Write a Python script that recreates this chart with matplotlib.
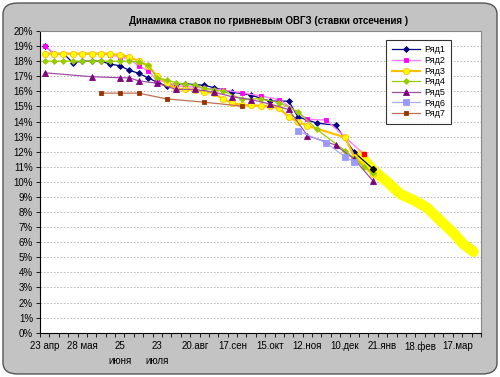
import numpy as np
import matplotlib
matplotlib.use("Agg")
import matplotlib.pyplot as plt
from matplotlib.patches import FancyBboxPatch

plt.rcParams["font.family"] = ["Liberation Sans", "DejaVu Sans"]

# -------------------------------
# Data (category index -> rate, %)
# -------------------------------
x_labels = ["23 апр", "28 мая", "25\nиюня", "23\nиюля", "20.авг", "17.сен",
            "15.окт", "12.ноя", "10.дек", "21.янв", "18.фев", "17.мар"]
n_cat = 47

r1_x = [0, 1, 2, 3, 4, 5, 6, 7, 8, 9, 10, 11, 12, 13, 14, 15, 16, 17, 18, 20, 22, 24, 26, 27, 29, 31, 33, 35]
r1_y = [19.0, 18.5, 18.5, 17.9, 18.0, 18.0, 18.0, 17.8, 17.7, 17.4, 17.2, 16.9, 16.6, 16.35, 16.5, 16.5,
        16.45, 16.4, 16.25, 15.95, 15.75, 15.35, 15.35, 14.3, 13.9, 13.75, 11.95, 10.85]

r2_x = [0, 1, 2, 3, 4, 5, 6, 7, 8, 9, 10, 11, 12, 13, 14, 15, 16, 17, 19, 21, 23, 25, 28, 30, 34]
r2_y = [19.0, 18.5, 18.5, 18.5, 18.5, 18.5, 18.5, 18.4, 18.3, 18.15, 17.7, 17.35, 16.75, 16.6, 16.4,
        16.3, 16.3, 16.2, 16.1, 15.9, 15.7, 15.45, 14.15, 14.1, 11.85]

r3_x = [0, 1, 2, 3, 4, 5, 6, 7, 8, 9, 10, 11, 12, 13, 14, 15, 16, 17, 18, 19, 20, 21, 22, 23, 24, 25,
        26, 27, 28, 32, 33, 35]
r3_y = [18.5, 18.5, 18.5, 18.5, 18.5, 18.5, 18.5, 18.5, 18.4, 18.3, 18.0, 17.7, 17.0, 16.55, 16.15,
        16.13, 16.1, 15.95, 15.9, 15.47, 15.24, 15.09, 15.07, 15.04, 15.0, 14.87, 14.31, 13.98, 13.72,
        12.95, 11.66, 10.5]

r4_x = [0, 1, 2, 3, 4, 5, 6, 7, 8, 9, 10, 11, 12, 13, 14, 15, 16, 17, 18, 19, 21, 23, 25, 27, 29, 32,
        33, 34, 35]
r4_y = [18.0, 18.0, 18.0, 18.0, 18.0, 18.0, 18.0, 18.0, 18.0, 18.0, 17.95, 17.74, 16.9, 16.75, 16.57,
        16.46, 16.4, 16.2, 16.1, 16.02, 15.5, 15.5, 15.25, 14.65, 13.48, 12.06, 11.56, 11.0, 10.6]

r5_x = [0, 5, 8, 9, 10, 12, 14, 16, 18, 20, 22, 24, 26, 28, 31, 33, 35]
r5_y = [17.23, 16.97, 16.9, 16.9, 16.7, 16.53, 16.13, 16.13, 15.95, 15.64, 15.45, 15.16, 14.8, 13.06,
        12.44, 11.5, 10.05]

r6_x = [27, 30, 32, 33]
r6_y = [13.37, 12.59, 11.66, 11.33]

r7_x = [6, 8, 10, 13, 17, 21]
r7_y = [15.88, 15.88, 15.88, 15.5, 15.28, 15.02]

# daily forecast band (yellow)
band_x = [33.6, 35.0, 36.5, 37.9, 39.3, 40.7, 42.1, 43.6, 44.6, 45.7]
band_y = [11.78, 10.78, 10.0, 9.19, 8.79, 8.31, 7.47, 6.59, 5.88, 5.37]

red_x, red_y = [34], [11.86]
black_x, black_y = [35], [10.83]

# -------------------------------
# Figure
# -------------------------------
fig = plt.figure(figsize=(5, 3.77), dpi=100)
fig.patch.set_facecolor("white")
bg = FancyBboxPatch((0.006, 0.008), 0.988, 0.984, boxstyle="round,pad=0,rounding_size=0.03",
                    transform=fig.transFigure, facecolor="#c3c3c3", edgecolor="#555555",
                    linewidth=1.0, zorder=-10)
fig.patches.append(bg)

ax = fig.add_axes([0.08, 0.1175, 0.882, 0.8003])
ax.set_facecolor("white")

ax.plot(band_x, band_y, color="#ffff00", linewidth=7.5, solid_capstyle="round", zorder=2)

series = [
    ("Ряд1", r1_x, r1_y, "#000080", "#000080", "D", 3.0, 0.9),
    ("Ряд2", r2_x, r2_y, "#ff80ff", "#ff00ff", "s", 3.0, 1.0),
    ("Ряд3", r3_x, r3_y, "#ffc000", "#ffff00", "o", 4.5, 1.6),
    ("Ряд4", r4_x, r4_y, "#99cc00", "#99cc00", "D", 3.0, 0.9),
    ("Ряд5", r5_x, r5_y, "#a050a0", "#800080", "^", 4.0, 0.9),
    ("Ряд6", r6_x, r6_y, "#aaaaff", "#9999ff", "s", 4.0, 0.9),
    ("Ряд7", r7_x, r7_y, "#c07050", "#993300", "s", 3.5, 0.9),
]
for name, xs, ys, lc, mc, mk, ms, lw in series:
    ax.plot(xs, ys, color=lc, linewidth=lw, marker=mk, markersize=ms,
            markerfacecolor=mc, markeredgecolor=mc if mk != "o" else "#ffc000",
            markeredgewidth=0.6, label=name, zorder=3)

ax.plot(red_x, red_y, "s", color="#ff0000", markersize=3, zorder=4)
ax.plot(black_x, black_y, "D", color="#000000", markersize=3, zorder=4)

ax.set_xlim(-0.5, n_cat - 0.5)
ax.set_ylim(0, 20)
ax.set_yticks(np.arange(0, 21, 1))
ax.set_yticklabels([f"{v}%" for v in range(21)], fontsize=7)
ax.yaxis.grid(True, color="#b0b0b0", linestyle=(0, (2, 2)), linewidth=0.6)
ax.set_axisbelow(True)

ax.set_xticks(np.arange(0, 45, 4))
ax.set_xticklabels(x_labels, fontsize=7, linespacing=1.6)
ax.set_xticks(np.arange(-0.5, n_cat, 1), minor=True)
ax.tick_params(axis="x", which="major", length=0, pad=6)
ax.tick_params(axis="x", which="minor", length=3, width=0.6, direction="out")
ax.tick_params(axis="y", length=3, width=0.6, pad=2)

for s in ("top", "right"):
    ax.spines[s].set_color("#888888")
    ax.spines[s].set_linewidth(0.8)
for s in ("left", "bottom"):
    ax.spines[s].set_color("black")
    ax.spines[s].set_linewidth(0.8)

fig.text(0.537, 0.945, "Динамика ставок по гривневым ОВГЗ (ставки отсечения )",
         ha="center", va="center", fontsize=7, fontweight="bold")

leg = ax.legend(loc="upper left", bbox_to_anchor=(0.785, 0.97), borderaxespad=0, fontsize=6.5,
                frameon=True, fancybox=False, edgecolor="black", handlelength=3.2,
                handletextpad=0.4, labelspacing=0.18, borderpad=0.6)
leg.get_frame().set_linewidth(0.8)

fig.savefig("out.png", dpi=100)
